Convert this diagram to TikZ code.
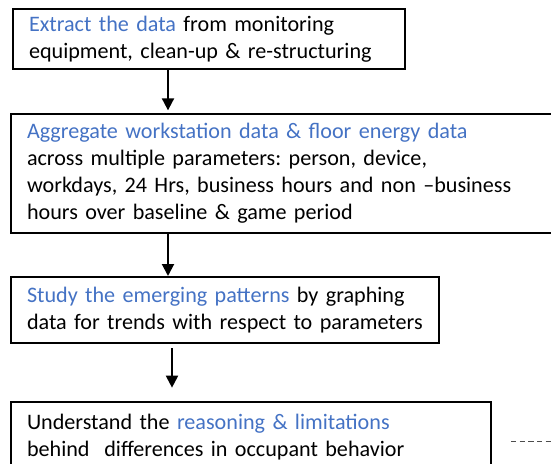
\documentclass[tikz,border=0pt]{standalone}
\usepackage{fontspec}
\setmainfont{Carlito}
\usetikzlibrary{arrows.meta}
\definecolor{stepblue}{RGB}{68,114,196}
\tikzset{
  flowbox/.style={draw, line width=1.5pt, anchor=north west, inner xsep=12pt, inner ysep=0pt,
    align=left, font=\fontsize{16.6}{20.25}\selectfont\frenchspacing},
  flowarrow/.style={line width=1.5pt, -{Triangle[width=9pt,length=9pt]}},
}
\newcommand{\hl}[1]{\textcolor{stepblue}{#1}}
\begin{document}
\begin{tikzpicture}[x=0.75pt,y=0.75pt,yscale=-1,xscale=1]
\useasboundingbox (0,0) rectangle (551,464);
\clip (0,0) rectangle (551,464);

% Boxes
\node [flowbox, text width=270pt, minimum height=45pt] (extract) at (12,8)
  {\hl{Extract the data} from monitoring\\equipment, clean-up \& re-structuring};
\node [flowbox, text width=400pt, minimum height=89.25pt] (aggregate) at (10,113)
  {\hl{Aggregate workstation data \& floor energy data}\\across multiple parameters: person, device,\\workdays, 24 Hrs, business hours and non –business\\hours over baseline \& game period};
\node [flowbox, text width=297pt, minimum height=49.5pt] (study) at (10,276)
  {\hl{Study the emerging patterns} by graphing\\data for trends with respect to parameters};
\node [flowbox, text width=336pt, minimum height=52.5pt] (understand) at (10,401)
  {Understand the \hl{reasoning \& limitations}\\behind\ \ differences in occupant behavior};

% Connectors
\draw [flowarrow, shorten >=2pt] (extract.south -| 168,0) -- (aggregate.north -| 168,0);
\draw [flowarrow] (aggregate.south -| 168,0) -- (study.north -| 168,0);
\draw [flowarrow, shorten <=3pt, shorten >=10pt] (study.south -| 172,0) -- (understand.north -| 172,0);

% Dashed lead-out
\coordinate (leadout) at (511,441);
\coordinate (leadend) at (555,441);
\draw [dashed, dash pattern=on 4pt off 2.5pt, line width=0.75pt, black!70] (leadout) -- (leadend);
\end{tikzpicture}
\end{document}
